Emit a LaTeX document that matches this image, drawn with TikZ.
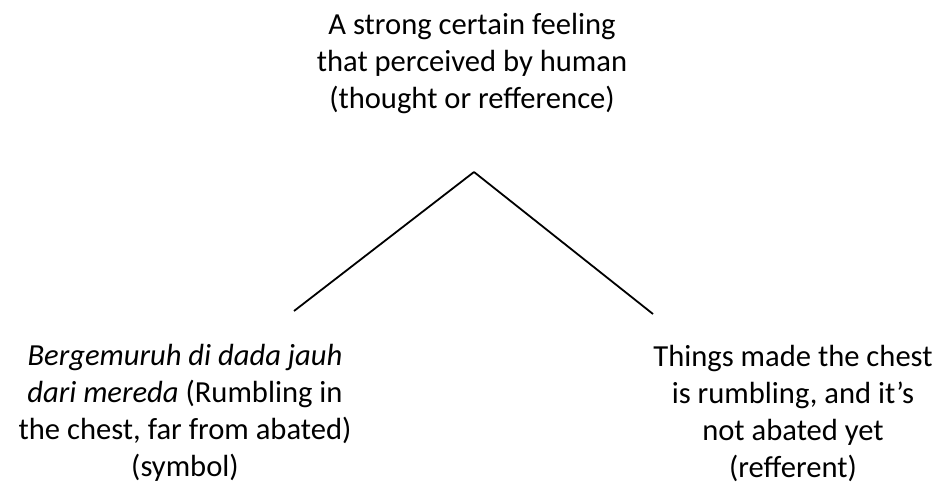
\documentclass[tikz,border=0pt]{standalone}
\usepackage{fontspec}
\setmainfont{Carlito}
\usepackage{tikz}
\usetikzlibrary{positioning}
\tikzset{
    note/.style={
           align=center,
           font=\fontsize{30.6}{36.8}\selectfont,
           inner sep=0pt,
           text centered,
           },
}
\tikzset{
    leg/.style={
           draw=black, line width=1.8pt,
           },
}
\begin{document}
\begin{tikzpicture}
\useasboundingbox (0,0) rectangle (944pt,-488pt);
\node[note,anchor=base](thought) at (472pt,-108pt){A strong certain feeling\\that perceived by human\\(thought or refference)};
\coordinate (apex) at (474pt,-172pt);
\coordinate (symbolend) at (294pt,-311pt);
\coordinate (referentend) at (653pt,-314pt);
\node[note,anchor=base](symbol) at (185pt,-476pt){\textit{Bergemuruh di dada jauh}\\\textit{dari mereda} (Rumbling in\\the chest, far from abated)\\(symbol)};
\node[note,anchor=base](referent) at (793pt,-477pt){Things made the chest\\is rumbling, and it’s\\not abated yet\\(refferent)};
\path (apex) edge[-,leg] (symbolend);
\path (apex) edge[-,leg] (referentend);
\end{tikzpicture}
\end{document}
